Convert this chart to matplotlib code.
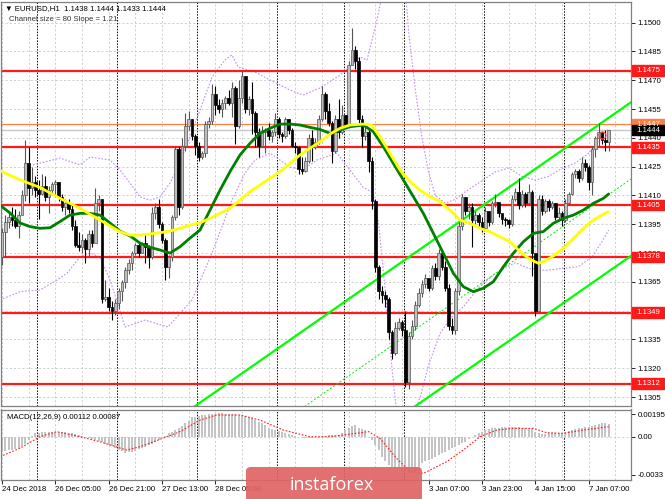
import numpy as np
import matplotlib
matplotlib.use('Agg')
import matplotlib.pyplot as plt
import matplotlib.transforms as mtransforms
from matplotlib.patches import Rectangle, FancyBboxPatch

plt.rcParams['font.family'] = ['Liberation Sans', 'DejaVu Sans']

# prices are kept in pips above 1.1300
BASE = 1.1300
first_open = 78
close_p = [91, 96, 99, 97, 94, 100, 110, 127, 114, 117, 113, 111, 115, 109, 113, 116, 117, 109, 104, 106,
           103, 94, 84, 83, 87, 82, 90, 85, 106, 108, 56, 57, 52, 50, 54, 60, 65, 71, 75, 80,
           84, 80, 85, 83, 78, 101, 104, 95, 87, 73, 78, 99, 134, 104, 136, 146, 150, 141, 136, 130,
           132, 147, 149, 163, 157, 155, 158, 161, 158, 166, 146, 161, 172, 155, 160, 153, 143, 136, 143, 144,
           141, 143, 150, 142, 141, 150, 144, 136, 135, 124, 123, 128, 140, 135, 138, 150, 163, 154, 148, 133,
           150, 143, 152, 147, 178, 186, 180, 150, 141, 143, 128, 107, 73, 60, 58, 56, 39, 28, 41, 44,
           40, 13, 37, 42, 53, 59, 64, 67, 62, 72, 68, 80, 73, 62, 42, 40, 60, 94, 109, 102,
           104, 97, 100, 96, 93, 102, 96, 106, 106.5, 101, 98, 97, 95, 108, 112, 105, 111, 106, 112, 80,
           50, 108, 102, 107, 104, 106, 99, 101, 97, 106, 111, 121, 123, 119, 127, 125, 117, 134, 140, 143,
           139, 138, 144]
high_p = [93, 100, 101, 104, 103, 102, 113, 139, 135, 125, 120, 118, 121, 120, 115, 117, 118, 117, 111, 108,
          108, 105, 97, 91, 90, 88, 92, 92, 114, 110, 108, 66, 62, 55, 56, 62, 66, 73, 77, 81,
          85, 85, 86, 90, 84, 104, 106, 108, 96, 88, 79, 100, 136, 135, 140, 153, 154, 150, 142, 138,
          133, 149, 151, 168, 167, 160, 160, 162, 165, 169, 167, 170, 175, 172, 162, 169, 154, 145, 146, 145,
          148, 144, 153, 151, 143, 151, 150, 145, 138, 136, 130, 130, 142, 144, 140, 152, 167, 164, 158, 149,
          152, 160, 157, 152, 180, 197, 188, 182, 152, 146, 145, 130, 108, 74, 63, 60, 57, 40, 44, 46,
          45, 50, 39, 45, 55, 62, 66, 69, 66, 74, 75, 82, 80, 76, 64, 46, 62, 96, 111, 109,
          106, 106, 102, 101, 99, 104, 102, 107, 111, 106, 100, 99, 98, 110, 114, 119, 113, 112, 116, 113,
          80, 110, 110, 108, 108, 107, 106, 104, 102, 108, 112, 122, 124, 124, 130, 129, 126, 136, 141, 148,
          143, 144, 144]
low_p = [74, 78, 93, 94, 93, 88, 102, 107, 106, 110, 109, 98, 110, 107, 101, 111, 109, 107, 102, 100,
         101, 92, 83, 81, 80, 75, 78, 83, 86, 102, 54, 55, 50, 45, 48, 51, 55, 62, 69, 71,
         79, 78, 80, 75, 72, 77, 98, 93, 85, 66, 67, 76, 97, 100, 103, 133, 144, 139, 131, 128,
         129, 130, 145, 147, 152, 153, 151, 155, 157, 151, 137, 145, 158, 153, 152, 142, 135, 130, 135, 132,
         139, 138, 141, 140, 138, 140, 142, 135, 132, 121, 121, 122, 127, 128, 134, 137, 149, 150, 146, 127,
         132, 140, 142, 145, 146, 178, 176, 148, 135, 139, 122, 103, 70, 56, 54, 52, 35, 25, 27, 40,
         37, 10, 9, 35, 40, 52, 57, 62, 60, 61, 66, 66, 71, 60, 40, 38, 38, 58, 92, 100,
         98, 83, 95, 94, 91, 92, 94, 95, 104, 99, 95, 94, 93, 94, 107, 103, 104, 104, 105, 68,
         47, 49, 100, 101, 102, 103, 97, 97, 94, 96, 105, 110, 119, 117, 118, 123, 113, 110, 130, 136,
         137, 133, 133]

# moving averages: (bar, pips)
green_ma = [(-0.6, 105.0), (2.4, 100.9), (5.4, 95.7), (8.4, 93.8), (11.4, 92.9), (14.4, 93.2), (17.4, 96.4),
            (20.4, 99.8), (23.4, 100.7), (26.4, 100.7), (29.4, 99.8), (32.4, 95.7), (35.4, 91.4), (38.4, 89.0),
            (41.4, 85.2), (44.4, 83.0), (47.4, 81.6), (50.4, 80.0), (53.4, 83.3), (56.4, 87.8), (59.4, 92.0),
            (62.4, 102.4), (65.4, 112.8), (68.4, 122.4), (71.4, 131.1), (74.4, 137.2), (77.4, 142.4),
            (80.4, 145.0), (83.4, 147.2), (86.4, 147.2), (89.4, 146.7), (92.4, 145.5), (95.4, 144.4),
            (98.4, 142.4), (101.4, 144.1), (104.4, 145.8), (108.4, 146.7), (111.4, 143.2), (114.4, 135.4),
            (117.4, 126.7), (120.4, 118.1), (123.4, 109.4), (126.4, 100.7), (129.4, 90.3), (132.4, 79.9),
            (135.4, 69.5), (138.4, 62.5), (141.4, 59.9), (144.4, 61.7), (147.4, 65.1), (150.4, 72.9),
            (153.4, 79.9), (156.4, 85.9), (159.4, 90.3), (162.4, 91.2), (165.4, 95.5), (168.4, 98.1),
            (171.4, 99.8), (174.4, 102.4), (177.4, 105.9), (180.4, 108.5), (182.0, 110.8)]
yellow_ma = [(-0.6, 122.9), (5.4, 118.1), (11.4, 114.2), (17.4, 108.5), (23.4, 103.3), (29.4, 97.2),
             (35.4, 91.1), (38.4, 89.4), (41.4, 89.4), (47.4, 90.6), (50.4, 91.5), (53.4, 92.9), (56.4, 94.6),
             (59.4, 95.8), (62.4, 98.1), (65.4, 100.7), (68.4, 103.3), (71.4, 107.6), (74.4, 112.0),
             (77.4, 115.5), (80.4, 118.9), (83.4, 122.4), (86.4, 126.7), (89.4, 131.1), (92.4, 134.6),
             (95.4, 138.0), (98.4, 142.0), (101.4, 145.0), (104.4, 146.7), (108.4, 147.2), (110.9, 146.7),
             (113.4, 140.6), (116.4, 132.0), (119.4, 123.3), (122.4, 117.2), (125.4, 112.8), (128.4, 109.4),
             (131.4, 106.8), (134.4, 102.4), (137.4, 97.2), (140.4, 95.5), (143.4, 92.9), (146.4, 91.1),
             (149.4, 88.5), (152.4, 85.9), (155.4, 80.7), (158.4, 76.7), (160.9, 74.7), (162.4, 75.5),
             (165.4, 78.5), (168.4, 82.5), (171.4, 87.7), (174.4, 92.9), (177.4, 97.2), (180.4, 100.2),
             (181.8, 101.5)]
# bollinger bands (purple dotted)
bb_upper = [(9.3, 125.9), (17.4, 129.5), (23.4, 125.9), (26.4, 130.0), (32.4, 128.5), (35.4, 123.3),
            (38.4, 116.5), (41.4, 109.2), (44.4, 107.6), (47.4, 109.2), (50.4, 116.5), (53.4, 126.9),
            (56.4, 140.5), (59.4, 154.5), (63.0, 171.7), (66.9, 180.6), (69.0, 183.2), (70.8, 176.9),
            (75.9, 174.3), (80.4, 170.2), (86.4, 164.9), (90.3, 162.3), (95.4, 166.0), (101.4, 172.7),
            (104.4, 176.9), (107.4, 182.1), (109.5, 180.6), (112.5, 201.4), (113.7, 211.8), (117.0, 230.0),
            (120.5, 230.0), (122.0, 195.0), (124.0, 165.0), (126.0, 140.0), (128.0, 122.0), (130.0, 110.0),
            (133.0, 106.0), (136.0, 108.0), (139.0, 112.0), (143.0, 116.5), (148.0, 122.3), (152.0, 124.3),
            (156.0, 120.0), (160.0, 118.0), (164.0, 120.0), (168.0, 124.0), (172.0, 127.0), (176.0, 132.0),
            (180.0, 140.0), (182.0, 145.0)]
bb_lower = [(-0.6, 55.6), (5.4, 59.9), (11.4, 60.8), (16.5, 66.0), (19.5, 69.5), (23.4, 78.0), (26.4, 80.0),
            (29.4, 78.0), (32.4, 66.0), (35.4, 50.0), (36.9, 41.5), (42.9, 45.1), (49.8, 41.5), (57.0, 55.6),
            (63.0, 80.0), (69.0, 107.6), (72.9, 121.7), (75.9, 128.5), (80.4, 132.1), (86.4, 124.8),
            (90.3, 123.3), (94.5, 128.5), (100.5, 132.1), (104.4, 123.3), (108.3, 114.4), (111.3, 111.3),
            (113.0, 95.0), (115.0, 60.0), (117.0, 20.0), (118.5, -5.0), (123.0, -5.0), (125.5, 5.0),
            (128.0, 22.0), (131.4, 38.0), (134.5, 46.0), (138.4, 52.0), (143.0, 62.0), (148.0, 69.5),
            (154.0, 75.0), (158.0, 72.0), (163.0, 71.0), (168.0, 72.0), (173.0, 73.0), (177.0, 78.0),
            (180.0, 86.0), (182.0, 92.0)]

# MACD main (histogram) and signal, in units of 0.0001
macd_hist = [-13, -12.5, -12, -11.6, -11, -10, -8, -6, -3, 0.5,
             2.9, 3.5, 4, 4.4, 4.5, 4.5, 4.5, 4.4, 4, 3.8,
             3.5, 3, 2.5, 1.5, 1, 0, -1, -2, -2.9, -4,
             -5, -6, -7.3, -8.5, -10, -11.6, -12.8, -13.9, -13.5, -13,
             -12.2, -11, -10, -8.7, -7.5, -6, -4.4, -3, -0.6, 1,
             2.9, 4.4, 5.8, 7.5, 9.5, 11.6, 14, 16.8, 17.5, 18.2,
             18.9, 19.3, 19.6, 19.9, 20.1, 20.3, 20.3, 20.1, 19.9, 19.7,
             19.4, 19, 18.6, 18, 17.4, 16, 14.5, 13, 11.6, 9.9,
             8, 6.4, 5.5, 5, 4.4, 3.5, 2.5, 1.5, 0.8, 0,
             -0.6, -1, -1.3, -1.5, -1.2, -0.5, 0.6, 0.8, 1.2, 1.5,
             1.3, 1.5, 3.5, 5.5, 8, 9.5, 10.2, 7.3, 6.5, 5.8,
             -0.6, -3, -7.3, -12, -17.4, -21, -24.7, -26, -27, -27.6,
             -30, -31, -32, -32, -31, -28, -23, -21.5, -20.3, -19,
             -17.5, -16, -14.5, -13, -11.5, -10, -8.7, -7.5, -5.8, -4.5,
             -2.3, -0.5, 1.5, 3, 4.4, 5.5, 6.7, 7.2, 7.6, 7.9,
             8.1, 8.1, 8.2, 8.2, 8.1, 8.1, 8, 8, 7.8, 7.8,
             4.4, 3, 2.3, 2.5, 2.9, 3, 3.2, 3.4, 3.5, 4,
             4.8, 5.8, 6.5, 7.2, 7.8, 8.3, 8.8, 9.3, 10, 10.8,
             11.6, 12, 11.2]
macd_signal = [(-0.6, -17.4), (5.4, -10.0), (11.4, 0.0), (16.4, 4.4), (23.4, 0.0), (29.4, -4.4),
               (37.4, -11.6), (41.4, -8.7), (47.4, -2.3), (53.4, 4.4), (59.4, 14.5), (64.4, 18.9),
               (71.4, 18.9), (77.4, 14.5), (84.4, 5.8), (92.4, 0.0), (98.4, 0.0), (104.4, 2.3),
               (110.0, 4.4), (113.4, -1.5), (118.4, -18.9), (122.4, -30.5), (126.4, -31.9), (133.4, -21.8),
               (138.4, -11.6), (143.4, 0.0), (148.4, 5.8), (153.4, 7.3), (159.4, 7.3), (163.4, 3.5),
               (168.4, 2.9), (174.4, 5.8), (182.0, 8.7)]

levels = [1.1475, 1.1435, 1.1405, 1.1378, 1.1349, 1.1312]
orange_level = 1.1447
bid = 1.1444
# linear regression channel: upper line anchor, slope (pips/bar), size (pips)
chan_anchor = (188.4, 158.2)
chan_slope = 1.21
chan_size = 80

day_starts = [11, 35, 59, 83, 103, 121, 145, 169]
# labels at 80, 96 and 112 sit under the watermark in the reference
time_ticks = [0, 16, 32, 48, 64, 128, 144, 160, 176]
time_labels = ['24 Dec 2018', '26 Dec 05:00', '26 Dec 21:00', '27 Dec 13:00', '28 Dec 05:00',
               '3 Jan 07:00', '3 Jan 23:00', '4 Jan 15:00', '7 Jan 07:00']
# 1.1350 is fully hidden by the 1.1349 box
price_ticks = [1.1305, 1.1320, 1.1335, 1.1365, 1.1380, 1.1395, 1.1410, 1.1425, 1.1440, 1.1455,
               1.1470, 1.1485, 1.1500]
grid_prices = [1.1305 + 0.0015 * k for k in range(14)]


def px(p):
    return BASE + np.asarray(p, dtype=float) / 10000.0


close = px(close_p)
high = px(high_p)
low = px(low_p)
opn = np.concatenate([[px(first_open)], close[:-1]])
idx = np.arange(len(close))

W, H = 665, 499
fig = plt.figure(figsize=(W / 100, H / 100), dpi=100)
fig.patch.set_facecolor('white')
ax = fig.add_axes([1 / W, 1 - 406 / H, 630 / W, 404 / H])
ax2 = fig.add_axes([1 / W, 1 - 480 / H, 630 / W, 70.5 / H])

XL = (-0.3, 188.7)
FS = 5.6
for a in (ax, ax2):
    a.set_xlim(*XL)
    for s in a.spines.values():
        s.set_color('#808080')
        s.set_linewidth(0.9)
    a.tick_params(colors='black', labelsize=FS, length=3, width=0.6, pad=1.5)
    # grid
    for g in range(0, 190, 8):
        a.axvline(g, color='#c8c8c8', lw=0.6, ls=(0, (2.5, 2.5)), zorder=0)
    for d in day_starts:
        a.axvline(d - 0.5, color='black', lw=0.7, ls=(0, (1.5, 1.5)), zorder=0.5)

ax.set_ylim(1.130036, 1.151078)
for p in grid_prices:
    ax.axhline(p, color='#c8c8c8', lw=0.6, ls=(0, (2.5, 2.5)), zorder=0)
ax.yaxis.tick_right()
ax.set_yticks(price_ticks)
ax.set_yticklabels(['%.4f' % p for p in price_ticks])
ax.set_xticks([])

# bollinger bands
for band in (bb_upper, bb_lower):
    b = np.array(band)
    ax.plot(b[:, 0], px(b[:, 1]), color='#c58cf0', lw=0.8, ls=(0, (1.5, 1.5)), zorder=1)

# horizontal levels
for lv in levels:
    ax.axhline(lv, color='#ff1a1a', lw=1.6, zorder=2)
ax.axhline(orange_level, color='#ff8040', lw=0.9, zorder=2)
ax.axhline(bid, color='#c8c8c8', lw=1.0, zorder=2)

# channel
cx = np.array([40, XL[1]])
up = chan_anchor[1] + chan_slope * (cx - chan_anchor[0])
ax.plot(cx, px(up), color='#00ff00', lw=1.6, zorder=2.2)
ax.plot(cx, px(up - chan_size), color='#00ff00', lw=1.6, zorder=2.2)
ax.plot(cx, px(up - chan_size / 2), color='#00ee00', lw=0.7, ls=(0, (2, 2)), zorder=2.2)

# candles
bull = close >= opn
wick_col = np.where(bull, '#555555', '#000000')
ax.vlines(idx, low, high, colors=wick_col, lw=0.8, zorder=3)
body_lo = np.minimum(opn, close)
body_h = np.maximum(np.abs(close - opn), 0.00002)
ax.bar(idx[bull], body_h[bull], bottom=body_lo[bull], width=0.72, color='#bdbdbd',
       edgecolor='#555555', linewidth=0.5, zorder=4)
ax.bar(idx[~bull], body_h[~bull], bottom=body_lo[~bull], width=0.72, color='black',
       edgecolor='black', linewidth=0.5, zorder=4)

# moving averages
g = np.array(green_ma)
ax.plot(g[:, 0], px(g[:, 1]), color='#008000', lw=2.0, zorder=5, solid_capstyle='round')
y = np.array(yellow_ma)
ax.plot(y[:, 0], px(y[:, 1]), color='#ffff00', lw=2.0, zorder=5, solid_capstyle='round')

# alert marker
ax.plot([180], [px(141.5)], 'o', ms=5, mfc='none', mec='#ff4040', mew=0.9, zorder=6)

# right-hand price boxes
blend = mtransforms.blended_transform_factory(fig.transFigure, ax.transData)
bh = 10.5 / 19200.0


def price_box(p, fc, tc='white'):
    ax.add_patch(Rectangle((632 / W, p - bh / 2), 32 / W, bh, transform=blend, facecolor=fc,
                           edgecolor=fc, clip_on=False, zorder=10))
    ax.text(648 / W, p, '%.4f' % p, transform=blend, color=tc, fontsize=FS, ha='center',
            va='center', clip_on=False, zorder=11)


for lv in levels:
    price_box(lv, '#ff1a1a')
price_box(orange_level, '#ff7f3f')
price_box(bid, 'black')

ax.text(0.007, 0.993, '\u25bc EURUSD,H1  1.1438 1.1444 1.1433 1.1444', transform=ax.transAxes,
        fontsize=FS, va='top', ha='left', zorder=12)
ax.text(0.012, 0.966, 'Channel size = 80 Slope = 1.21', transform=ax.transAxes,
        fontsize=FS, va='top', ha='left', color='#333333', zorder=12)

# MACD panel
ax2.set_ylim(-0.00377, 0.00237)
ax2.axhline(0, color='#c8c8c8', lw=0.6, ls=(0, (2.5, 2.5)), zorder=0)
ax2.bar(idx, np.array(macd_hist) / 10000.0, width=0.62, color='#c4c4c4', zorder=2)
s = np.array(macd_signal)
ax2.plot(s[:, 0], s[:, 1] / 10000.0, color='#ff2020', lw=0.8, ls=(0, (1.5, 1.5)), zorder=3)
ax2.yaxis.tick_right()
ax2.set_yticks([0.00195, 0.0, -0.0033])
ax2.set_yticklabels(['0.00195', '0.00', '-0.0033'])
ax2.set_xticks(time_ticks)
ax2.set_xticklabels(time_labels)
for lab in ax2.get_xticklabels():
    lab.set_ha('left')
ax2.text(0.009, 0.93, 'MACD(12,26,9) 0.00112 0.00087', transform=ax2.transAxes, fontsize=FS,
         va='top', ha='left', zorder=12)

# watermark
fig.add_artist(FancyBboxPatch((246 / W, -0.05), 176 / W, (32 / H) + 0.05,
                              boxstyle='round,pad=0,rounding_size=0.008', transform=fig.transFigure,
                              facecolor='#e06464', edgecolor='none', alpha=0.92, zorder=20))
fig.text(332 / W, 1 - 485 / H, 'instaforex', color='white', fontsize=13, ha='center', va='center',
         family=['Open Sans', 'DejaVu Sans'], zorder=21)

fig.savefig('out.png', dpi=100)
